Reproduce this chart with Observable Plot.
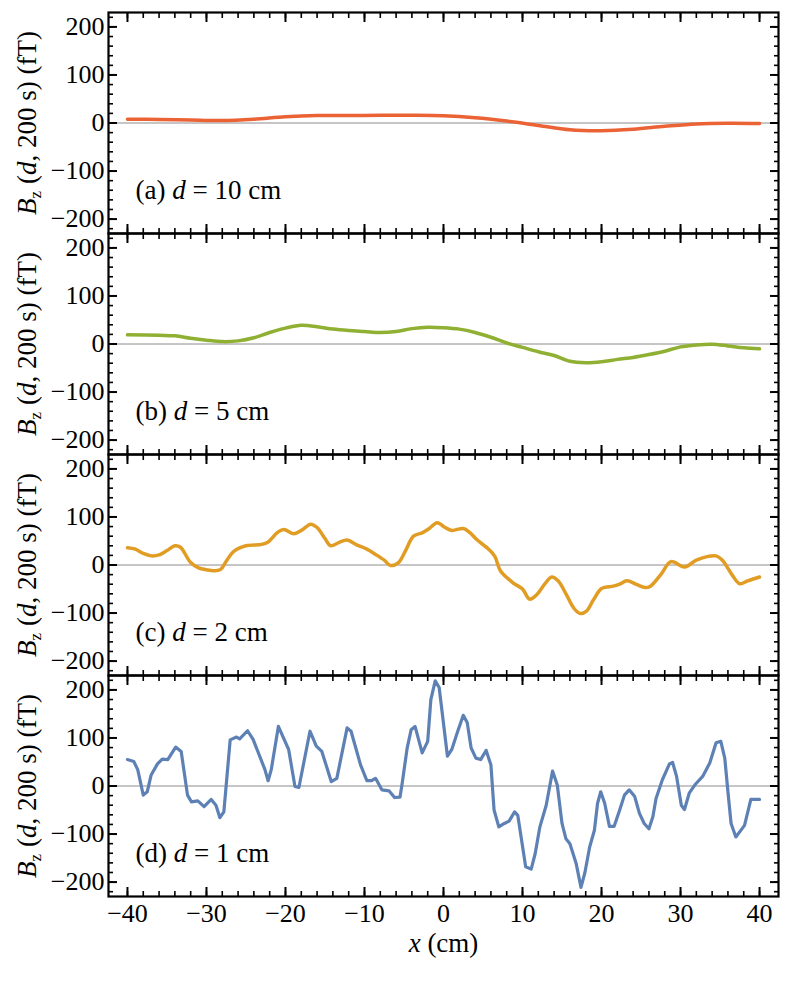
<!DOCTYPE html>
<html><head><meta charset="utf-8">
<script src="https://cdn.jsdelivr.net/npm/d3@7"></script>
<script src="https://cdn.jsdelivr.net/npm/@observablehq/plot@0.6"></script>
<style>body{margin:0;background:#fff;} svg{display:block} text{white-space:pre}</style>
</head><body><div id="chart"></div>
<script>
const panels = ["a", "b", "c", "d"];
const panelLabels = [["(a) ", "d", " = 10 cm"], ["(b) ", "d", " = 5 cm"], ["(c) ", "d", " = 2 cm"], ["(d) ", "d", " = 1 cm"]];
const yLabelParts = [["B", "i"], ["z", "sub"], [" (", "after"], ["d", "i"], [", 200 s) (fT)", ""]];
const xLabelParts = [["x", "i"], [" (cm)", ""]];
const colors = ["#EB6235", "#8FB032", "#E19C24", "#5E81B5"];
const xTicks = [-40, -30, -20, -10, 0, 10, 20, 30, 40];
const yTicks = [-200, -100, 0, 100, 200];

// (a) d = 10 cm
const xA = [-40, -36, -32, -28, -24, -20, -16, -12, -8, -4, 0, 4, 8, 12, 16, 20, 24, 28, 32, 36, 40];
const yA = [8, 7.5, 6, 5, 8, 13, 15.5, 15.5, 16, 16, 15, 11, 4, -5, -14, -16, -13, -7, -2, -0.5, -1];

// (b) d = 5 cm
const xB = [-40, -36, -34, -32, -30, -28, -26, -24, -22, -20, -18, -16, -14, -12, -10, -8, -6, -4, -2, 0, 2, 4, 6, 8, 10, 12, 14, 16, 18, 20, 22, 24, 26, 28, 30, 32, 34, 36, 38, 40];
const yB = [19, 18, 17, 12, 8, 5, 6.5, 13, 24, 33, 39, 36, 31, 28, 26, 24, 26, 32, 35, 34, 31, 24, 14, 2, -7, -16, -24, -36, -39, -37, -32, -28, -22, -15, -6, -2, -0.5, -4, -8, -10];

// (c) d = 2 cm
const xC = [-40, -39, -38, -37, -36, -35, -34, -33.3, -32, -31, -30, -29, -28.2, -27.5, -26.5, -25, -23, -22.2, -21, -20.2, -19, -18, -16.8, -16, -15, -14.3, -13.2, -12.2, -11, -9.7, -8.6, -7.5, -6.7, -5.7, -4.8, -3.8, -2.7, -1.8, -0.8, 0.2, 1.05, 2.5, 3.3, 4.2, 5.7, 6.5, 7.2, 8.8, 10, 10.9, 11.8, 12.8, 13.7, 14.5, 15.5, 16.5, 17.3, 18.1, 19, 20, 21.5, 22.3, 23.2, 24.5, 25.5, 26.2, 27.5, 28.8, 30.5, 32, 33.5, 34.5, 35.3, 36.5, 37.5, 38.5, 40];
const yC = [36, 33, 24, 19, 21, 30, 40, 37, 5, -6, -10, -12, -9, 8, 29, 40, 43, 48, 68, 74, 65, 72, 85, 78, 55, 40, 47, 52, 42, 33, 22, 10, -1, 5, 30, 60, 67, 76, 88, 78, 72, 76, 68, 53, 33, 18, -12, -37, -50, -71, -62, -40, -25, -33, -60, -90, -101, -96, -72, -49, -44, -40, -33, -41, -47, -44, -20, 7, -4, 10, 18, 19, 10, -20, -39, -33, -25];

// (d) d = 1 cm
const xD = [-40, -39.2, -38.7, -38, -37.5, -37, -36.2, -35.6, -34.9, -33.9, -33.2, -32.4, -31.9, -31.1, -30.3, -29.4, -28.8, -28.3, -27.8, -27, -26.2, -25.8, -24.8, -24.1, -22.6, -22.2, -21.8, -20.9, -19.6, -18.8, -18.3, -16.9, -16.1, -15.4, -14.2, -13.5, -12.2, -11.7, -10.5, -9.7, -9.1, -8.6, -7.8, -6.9, -6.2, -5.5, -5.2, -4.6, -4.1, -3.6, -2.7, -2.0, -1.6, -1.05, -0.55, 0.5, 1.05, 1.8, 2.5, 3.0, 3.5, 4.1, 4.7, 5.4, 6.0, 6.4, 7.0, 7.7, 8.3, 9.0, 9.4, 10.4, 11.1, 11.6, 12.2, 13.0, 13.8, 14.4, 15.0, 15.5, 16.0, 16.8, 17.4, 17.9, 18.5, 19.1, 19.5, 19.9, 20.4, 21.0, 21.6, 22.3, 22.9, 23.5, 24.2, 24.8, 25.4, 26.0, 26.5, 26.9, 27.7, 28.6, 29.0, 29.5, 30.1, 30.5, 31.1, 31.8, 32.8, 33.7, 34.5, 35.1, 35.6, 36.0, 36.4, 37.0, 38.1, 38.9, 40.0];
const yD = [55, 51, 34, -19, -12, 23, 46, 56, 55, 81, 72, -19, -33, -31, -43, -28, -40, -66, -54, 96, 102, 98, 115, 97, 34, 11, 34, 124, 76, -1, -3, 114, 83, 72, 9, 16, 121, 114, 44, 11, 11, 16, -8, -10, -24, -23, 9, 79, 117, 124, 69, 93, 180, 219, 205, 62, 76, 114, 147, 132, 79, 58, 55, 74, 44, -50, -85, -78, -73, -54, -61, -168, -173, -141, -85, -40, 31, 2, -78, -110, -120, -162, -211, -180, -127, -92, -36, -12, -36, -84, -84, -50, -19, -8, -22, -57, -78, -89, -64, -26, 13, 46, 49, 20, -40, -49, -15, 2, 20, 48, 90, 93, 58, -12, -78, -106, -82, -28, -28];

const series = [[xA, yA], [xB, yB], [xC, yC], [xD, yD]];
const rows = series.flatMap(([xs, ys], i) => xs.map((x, j) => ({panel: panels[i], x, v: ys[j]})));

const xMinor = d3.range(-40, 41, 2);
const yMinor = d3.range(-220, 221, 20);
const fmt = d3.format("d");
const FONT = "'Liberation Serif', 'Times New Roman', serif";

const tickAxis = (fn, anchor, ticks, size, sw) =>
  fn({anchor, ticks, tickSize: -size, strokeWidth: sw, fill: "none", label: null, facetAnchor: null});

const plot = Plot.plot({
  width: 789,
  height: 986,
  marginLeft: 108,
  marginRight: 11,
  marginTop: 10,
  marginBottom: 89,
  style: {fontFamily: FONT, fontSize: "26px", background: "white", color: "black"},
  x: {domain: [-42.4, 42.4]},
  y: {domain: [-230, 230]},
  fy: {domain: panels, axis: null, padding: 0},
  marks: [
    Plot.ruleY([0], {stroke: "#8c8c8c", strokeWidth: 1}),
    ...panels.map((p, i) => Plot.line(rows.filter(r => r.panel === p), {
      x: "x", y: "v", fy: "panel", stroke: colors[i], strokeWidth: i < 3 ? 3.5 : 3.2,
      curve: i < 3 ? "catmull-rom" : "linear", strokeLinejoin: "round"
    })),
    Plot.frame({strokeWidth: 2.2}),
    tickAxis(Plot.axisX, "bottom", xTicks, 9, 2),
    tickAxis(Plot.axisX, "top", xTicks, 9, 2),
    tickAxis(Plot.axisX, "bottom", xMinor, 5, 1.6),
    tickAxis(Plot.axisX, "top", xMinor, 5, 1.6),
    tickAxis(Plot.axisY, "left", yTicks, 9, 2),
    tickAxis(Plot.axisY, "right", yTicks, 9, 2),
    tickAxis(Plot.axisY, "left", yMinor, 5, 1.6),
    tickAxis(Plot.axisY, "right", yMinor, 5, 1.6),
    Plot.axisX({anchor: "bottom", ticks: xTicks, tickSize: 0, tickPadding: 7, tickFormat: fmt, label: null, fontSize: 26}),
    Plot.axisY({anchor: "left", ticks: yTicks, tickSize: 0, tickPadding: 4, tickFormat: fmt, label: null, facetAnchor: null, fontSize: 26})
  ]
});
document.getElementById("chart").append(plot);

const svg = d3.select(plot);
// make sure the tick labels use the serif face at full size
svg.selectAll('g[aria-label$="tick label"]').style("font-family", FONT).style("font-size", "26px");

// Rich-text labels placed relative to the rendered panel frames
const sb = plot.getBoundingClientRect();
const frames = svg.selectAll('g[aria-label="frame"] rect').nodes().map(n => {
  const b = n.getBoundingClientRect();
  return {x: b.left - sb.left, y: b.top - sb.top, w: b.width, h: b.height};
}).sort((a, b) => a.y - b.y);

function addRich(parent, parts, size, anchor) {
  const t = parent.append("text")
    .attr("font-family", FONT).attr("font-size", size).attr("fill", "black")
    .attr("text-anchor", anchor);
  parts.forEach(([s, style]) => {
    const ts = t.append("tspan").text(s);
    if (style === "i") ts.attr("font-style", "italic");
    if (style === "sub") ts.attr("font-size", Math.round(size * 0.62)).attr("dy", 5);
    if (style === "after") ts.attr("dy", -5);
  });
  return t;
}

const g = svg.append("g").attr("aria-label", "labels");
frames.forEach((f, i) => {
  addRich(g, yLabelParts, 27, "middle")
    .attr("transform", `translate(${f.x - 82},${f.y + f.h / 2}) rotate(-90)`)
    .attr("dy", "0.35em");
  addRich(g, panelLabels[i].map((s, k) => [s, k === 1 ? "i" : ""]), 27, "start")
    .attr("x", f.x + 27)
    .attr("y", f.y + f.h - 35);
});
const last = frames[frames.length - 1];
addRich(g, xLabelParts, 27, "middle")
  .attr("x", last.x + last.w / 2)
  .attr("y", last.y + last.h + 55);
</script>
</body></html>
